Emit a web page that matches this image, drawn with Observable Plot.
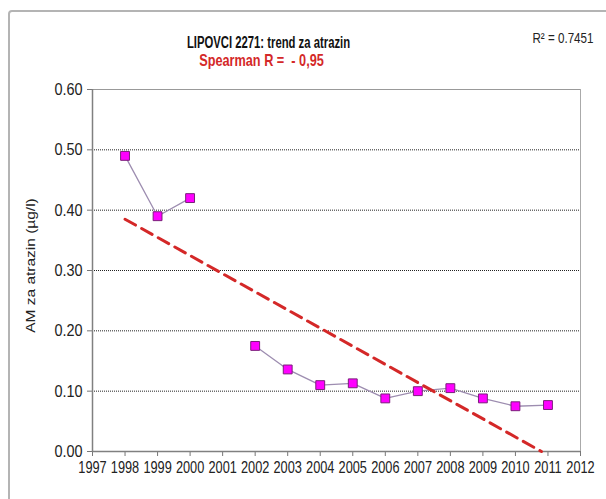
<!DOCTYPE html>
<html>
<head>
<meta charset="utf-8">
<script src="https://cdn.jsdelivr.net/npm/d3@7"></script>
<script src="https://cdn.jsdelivr.net/npm/@observablehq/plot@0.6"></script>
<style>
  html, body { margin: 0; padding: 0; background: #fff; overflow: hidden; }
  #wrap { position: relative; width: 606px; height: 499px; }
  #border { position: absolute; left: 8px; top: 10px; width: 620px; height: 520px;
            border: 2px solid #b4b4b4; border-radius: 4px; box-sizing: border-box; }
  #chart { position: absolute; left: 0; top: 0; }
</style>
</head>
<body>
<div id="wrap"><div id="border"></div><div id="chart"></div></div>
<script>
// ---- data ----
const years  = [1998, 1999, 2000, 2001, 2002, 2003, 2004, 2005, 2006, 2007, 2008, 2009, 2010, 2011];
const values = [0.49, 0.39, 0.42, NaN, 0.175, 0.136, 0.110, 0.113, 0.088, 0.100, 0.105, 0.088, 0.075, 0.077];
const trendYears  = [1998, 2010.8];
const trendValues = [0.385, 0.0];
const xTicks = [1997, 1998, 1999, 2000, 2001, 2002, 2003, 2004, 2005, 2006, 2007, 2008, 2009, 2010, 2011, 2012];
const yTicks = [0, 0.1, 0.2, 0.3, 0.4, 0.5, 0.6];
const gridValues = [0.1, 0.2, 0.3, 0.4, 0.5];
const titleText = ["LIPOVCI 2271: trend za atrazin"];
const subtitleText = ["Spearman R =  - 0,95"];
const r2Text = ["R² = 0.7451"];
const yLabelText = ["AM za atrazin (µg/l)"];

const points = years.map((y, i) => ({year: y, value: values[i]}));
const trend = trendYears.map((y, i) => ({year: y, value: trendValues[i]}));
const pointsValid = points.filter(d => !isNaN(d.value));

const font = "'Liberation Sans', Arial, sans-serif";

const chart = Plot.plot({
  width: 606,
  height: 499,
  marginLeft: 92,
  marginRight: 26,
  marginTop: 89,
  marginBottom: 48,
  style: {fontFamily: font, background: "transparent", overflow: "visible"},
  x: {domain: [1997, 2012]},
  y: {domain: [0, 0.6]},
  marks: [
    Plot.ruleY(gridValues, {stroke: "#222", strokeWidth: 1, strokeDasharray: "1,1"}),
    Plot.ruleY([0.6], {stroke: "#999", strokeWidth: 1}),
    Plot.ruleX([2012], {stroke: "#aaa", strokeWidth: 1}),
    Plot.axisX({ticks: xTicks, tickFormat: d => String(d), tickSize: 5, tickPadding: 4,
                fontSize: 17, stroke: "#777", color: "#222", label: null}),
    Plot.axisY({ticks: yTicks, tickFormat: d3.format(".2f"), tickSize: 5, tickPadding: 5,
                fontSize: 17, stroke: "#777", color: "#222", label: null}),
    Plot.ruleX([1997], {stroke: "#808080", strokeWidth: 1.5}),
    Plot.ruleY([0], {stroke: "#808080", strokeWidth: 1.5}),
    Plot.line(points, {x: "year", y: "value", stroke: "#9d8db0", strokeWidth: 1.3}),
    Plot.dot(pointsValid, {x: "year", y: "value", symbol: "square", r: 5,
                           fill: "#ff00ff", stroke: "#7a1f7a", strokeWidth: 1}),
    Plot.line(trend, {x: "year", y: "value", stroke: "#d42828", strokeWidth: 3,
                      strokeDasharray: "12,7"}),
    Plot.text(titleText, {frameAnchor: "top", dx: -68, dy: -54, fontSize: 17,
                          fontWeight: "bold", fill: "#111"}),
    Plot.text(subtitleText, {frameAnchor: "top", dx: -75, dy: -35, fontSize: 16.5,
                             fontWeight: "bold", fill: "#d42828"}),
    Plot.text(r2Text, {frameAnchor: "top-right", dx: 13, dy: -56, fontSize: 14,
                       fill: "#222", textAnchor: "end"}),
    Plot.text(yLabelText, {frameAnchor: "left", dx: -61, dy: -5, rotate: -90,
                           textAnchor: "middle", fontSize: 15.5, fill: "#222"})
  ]
});

// condensed look of the original (horizontally squeezed glyphs)
const squeezeByText = new Map([
  [titleText[0], "scale(0.665,1)"],
  [subtitleText[0], "scale(0.77,1)"],
  [r2Text[0], "scale(0.83,1)"],
  [yLabelText[0], "scale(1,0.8)"]
]);
xTicks.forEach(t => squeezeByText.set(String(t), "scale(0.75,1)"));
yTicks.forEach(t => squeezeByText.set(d3.format(".2f")(t), "scale(0.85,1)"));
chart.querySelectorAll("text").forEach(t => {
  const s = squeezeByText.get(t.textContent);
  if (!s) return;
  const tr = t.getAttribute("transform") || "";
  if (tr) {
    t.setAttribute("transform", tr + " " + s);
  } else {
    const x = +t.getAttribute("x") || 0, y = +t.getAttribute("y") || 0;
    t.setAttribute("transform", `translate(${x},${y}) ${s} translate(${-x},${-y})`);
  }
});
document.getElementById("chart").appendChild(chart);
</script>
</body>
</html>
